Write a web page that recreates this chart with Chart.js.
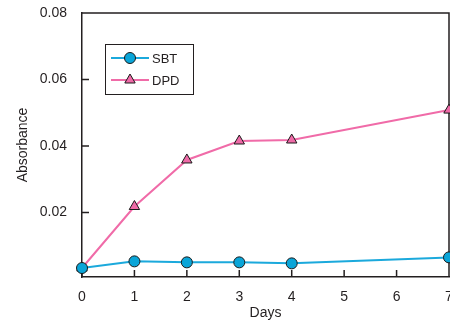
<!DOCTYPE html>
<html>
<head>
<meta charset="utf-8">
<script src="https://cdn.jsdelivr.net/npm/chart.js@4/dist/chart.umd.min.js"></script>
<style>
  html, body { margin: 0; padding: 0; background: #fff; overflow: hidden; }
  #wrap { width: 450px; height: 320px; }
</style>
</head>
<body>
<div id="wrap"><canvas id="absChart"></canvas></div>
<script>
// Data
const days = [0, 1, 2, 3, 4, 7];
const sbtValues = [0.0033, 0.0053, 0.0050, 0.0050, 0.0047, 0.0065];
const dpdValues = [0.0033, 0.0218, 0.0358, 0.0415, 0.0418, 0.0508];
const yTicks = [0.02, 0.04, 0.06, 0.08];
const xTicks = [0, 1, 2, 3, 4, 5, 6, 7];

const axisColor = '#231f20';
const font = { family: '"Liberation Sans", Arial, sans-serif', size: 14 };

// Box around the plot area, inward tick marks and the framed legend
const framePlugin = {
    id: 'frame',
    beforeDatasetsDraw(chart) {
        const { ctx, chartArea: a, scales } = chart;
        ctx.save();
        ctx.strokeStyle = axisColor;
        ctx.lineWidth = 1.5;
        ctx.beginPath();
        ctx.moveTo(a.left, a.top);
        ctx.lineTo(a.right, a.top);
        ctx.lineTo(a.right, a.bottom);
        scales.x.ticks.forEach(t => {
            const px = scales.x.getPixelForValue(t.value);
            ctx.moveTo(px, a.bottom);
            ctx.lineTo(px, a.bottom - 7);
        });
        scales.y.ticks.forEach(t => {
            const py = scales.y.getPixelForValue(t.value);
            ctx.moveTo(a.left, py);
            ctx.lineTo(a.left + 7, py);
        });
        ctx.stroke();
        ctx.restore();
    },
    afterDatasetsDraw(chart) {
        const { ctx } = chart;
        ctx.save();
        // legend box
        const bx = 105, by = 44, bw = 88, bh = 50;
        ctx.strokeStyle = axisColor;
        ctx.lineWidth = 1;
        ctx.strokeRect(bx + 0.5, by + 0.5, bw, bh);
        chart.data.datasets.forEach((ds, i) => {
            const y = by + 14 + i * 22;
            ctx.strokeStyle = ds.borderColor;
            ctx.lineWidth = 2;
            ctx.beginPath();
            ctx.moveTo(bx + 6, y);
            ctx.lineTo(bx + 44, y);
            ctx.stroke();
            ctx.fillStyle = ds.pointBackgroundColor;
            ctx.strokeStyle = ds.pointBorderColor;
            ctx.lineWidth = 1;
            Chart.helpers.drawPoint(ctx, { pointStyle: ds.pointStyle, radius: ds.pointRadius, borderWidth: 1 }, bx + 25, y);
            ctx.fillStyle = axisColor;
            ctx.font = '13px "Liberation Sans", Arial, sans-serif';
            ctx.textBaseline = 'middle';
            ctx.fillText(ds.label, bx + 47, y + 1);
        });
        ctx.restore();
    }
};

const ctx = document.getElementById('absChart').getContext('2d');

new Chart(ctx, {
    type: 'line',
    data: {
        datasets: [{
            label: 'SBT',
            data: days.map((d, i) => ({ x: d, y: sbtValues[i] })),
            borderColor: '#1ba9dc',
            borderWidth: 2,
            pointStyle: 'circle',
            pointRadius: 5.5,
            pointBackgroundColor: '#0aa5d8',
            pointBorderColor: '#1a1a1a',
            pointBorderWidth: 1,
            clip: false
        }, {
            label: 'DPD',
            data: days.map((d, i) => ({ x: d, y: dpdValues[i] })),
            borderColor: '#f06ba8',
            borderWidth: 2,
            pointStyle: 'triangle',
            pointRadius: 6,
            pointBackgroundColor: '#ef6aa7',
            pointBorderColor: '#1a1a1a',
            pointBorderWidth: 1,
            clip: false
        }]
    },
    options: {
        responsive: true,
        maintainAspectRatio: false,
        animation: false,
        layout: { autoPadding: false, padding: { top: 13, right: 1, left: 0, bottom: 0 } },
        plugins: { legend: { display: false }, tooltip: { enabled: false } },
        scales: {
            x: {
                type: 'linear',
                min: 0,
                max: 7,
                afterFit(scale) {
                    scale.height = 43;
                    scale.paddingLeft = 0;
                    scale.paddingRight = 0;
                },
                afterBuildTicks(scale) { scale.ticks = xTicks.map(v => ({ value: v })); },
                ticks: { color: axisColor, font: font, padding: 12, maxRotation: 0 },
                grid: { drawOnChartArea: false, drawTicks: false },
                border: { color: axisColor, width: 1.5 },
                title: { display: true, text: 'Days', color: axisColor, font: font, padding: { top: 0, bottom: -2 } }
            },
            y: {
                min: 0.0006,
                max: 0.08,
                afterFit(scale) {
                    scale.width = 82;
                    scale.paddingTop = 0;
                    scale.paddingBottom = 0;
                },
                afterBuildTicks(scale) { scale.ticks = yTicks.map(v => ({ value: v })); },
                ticks: { color: axisColor, font: font, padding: 15, callback: v => v.toFixed(2) },
                grid: { drawOnChartArea: false, drawTicks: false },
                border: { color: axisColor, width: 1.5 },
                title: { display: true, text: 'Absorbance', color: axisColor, font: font, padding: { top: 15, bottom: 0 } }
            }
        }
    },
    plugins: [framePlugin]
});
</script>
</body>
</html>
